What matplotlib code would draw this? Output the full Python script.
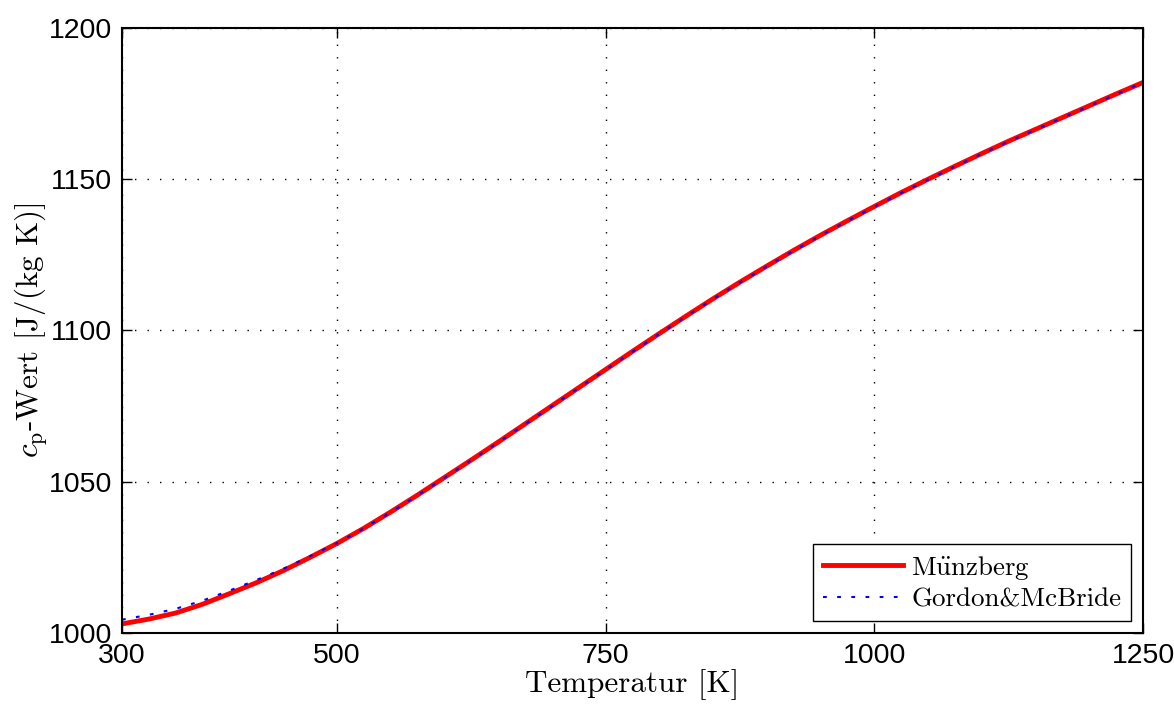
import numpy as np
import matplotlib
matplotlib.use("Agg")
import matplotlib.pyplot as plt

# temperature grid [K]
temps = [300, 325, 350, 375, 400, 425, 450, 475, 500, 525,
         550, 575, 600, 625, 650, 675, 700, 725, 750, 775,
         800, 825, 850, 875, 900, 925, 950, 975, 1000, 1025,
         1050, 1075, 1100, 1125, 1150, 1175, 1200, 1225, 1250]
# cp values [J/(kg K)]
cp_muenzberg = [1003.0, 1004.6, 1006.6, 1009.5, 1013.0, 1016.6, 1020.6, 1025.0, 1029.6, 1034.6,
                1040.0, 1045.6, 1051.4, 1057.2, 1063.1, 1069.1, 1075.1, 1081.1, 1087.1, 1093.1,
                1099.0, 1104.8, 1110.5, 1116.0, 1121.3, 1126.5, 1131.5, 1136.3, 1141.0, 1145.6,
                1150.0, 1154.3, 1158.5, 1162.6, 1166.5, 1170.4, 1174.3, 1178.2, 1182.0]
cp_gordon = [1004.4, 1006.0, 1008.0, 1010.7, 1014.0, 1017.5, 1021.2, 1025.4, 1029.7, 1034.6,
             1039.9, 1045.5, 1051.3, 1057.1, 1063.0, 1069.0, 1075.0, 1081.0, 1087.0, 1093.0,
             1098.9, 1104.7, 1110.4, 1115.9, 1121.2, 1126.4, 1131.4, 1136.2, 1140.9, 1145.5,
             1149.9, 1154.2, 1158.4, 1162.5, 1166.4, 1170.3, 1174.2, 1178.1, 1182.0]

xticks = [300, 500, 750, 1000, 1250]
yticks = [1000, 1050, 1100, 1150, 1200]

plt.rcParams['mathtext.fontset'] = 'cm'
plt.rcParams['font.family'] = ['Liberation Sans', 'DejaVu Sans']

fig = plt.figure(figsize=(11.74, 7.07), dpi=100)
ax = fig.add_axes([0.1039, 0.1047, 0.8697, 0.8557])

ax.plot(temps, cp_muenzberg, color='red', linewidth=3.5, label=r'$\mathrm{M\ddot{u}nzberg}$')
ax.plot(temps, cp_gordon, color='blue', linewidth=1.5, linestyle=(0, (1.8, 5)),
        label='Gordon&McBride')

ax.set_xlim(300, 1250)
ax.set_ylim(1000, 1200)
ax.set_xticks(xticks)
ax.set_yticks(yticks)
ax.tick_params(direction='in', length=7, width=1, labelsize=20.5, top=True, right=True, pad=7)
for sp in ax.spines.values():
    sp.set_linewidth(1.5)
ax.grid(True, color='black', linestyle=(0, (1, 8)), linewidth=1)

ax.set_xlabel('Temperatur [K]', fontsize=22.4, family='cmr10', labelpad=0)
ax.set_ylabel(r'$c_\mathrm{p}$-Wert [J/(kg K)]', fontsize=22.4, family='cmr10', labelpad=-1)

leg = ax.legend(loc='lower right', fontsize=19.4, fancybox=False, framealpha=1,
                edgecolor='black', borderaxespad=0.45, handlelength=3.0,
                handletextpad=0.3, borderpad=0.35, labelspacing=0.22)
leg.get_frame().set_linewidth(1)
leg.get_texts()[1].set_family('cmr10')

fig.savefig('out.png', dpi=100)
